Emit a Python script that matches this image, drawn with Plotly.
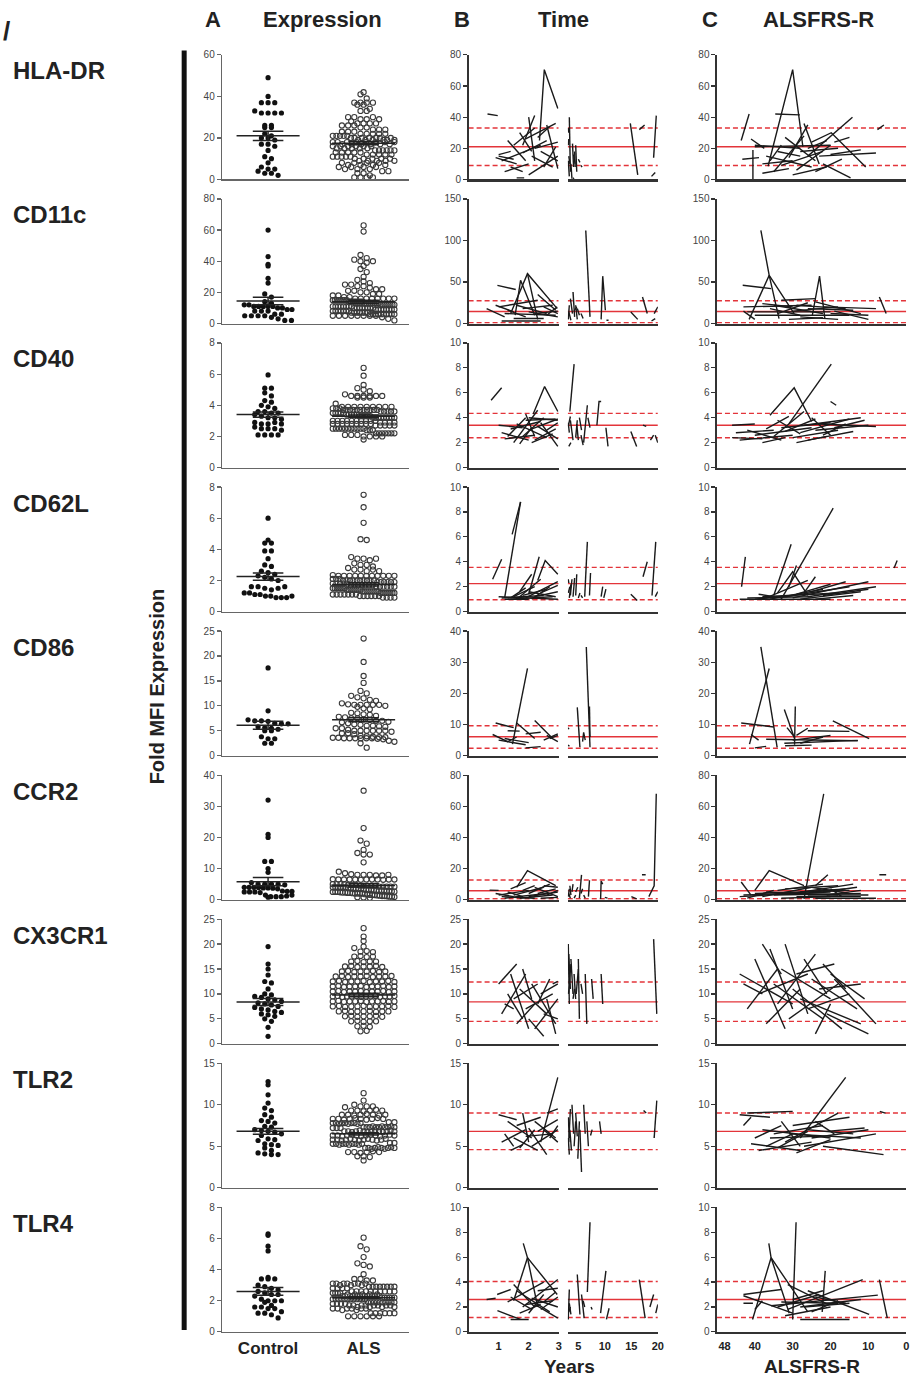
import plotly.graph_objects as go

W, H = 918, 1383

MARKERS = ["HLA-DR", "CD11c", "CD40", "CD62L", "CD86", "CCR2", "CX3CR1", "TLR2", "TLR4"]
A_YMAX = [60, 80, 8, 8, 25, 40, 25, 15, 8]
A_DTICK = [20, 20, 2, 2, 5, 10, 5, 5, 2]
BC_YMAX = [80, 150, 10, 10, 40, 80, 25, 15, 10]
BC_DTICK = [20, 50, 2, 2, 10, 20, 5, 5, 2]

REF_MEAN = [21, 14.5, 3.4, 2.25, 6.1, 5.8, 8.4, 6.8, 2.6]
REF_LO = [9, 1.0, 2.4, 0.95, 2.4, 0.6, 4.5, 4.6, 1.15]
REF_HI = [33, 27.5, 4.35, 3.55, 9.6, 12.7, 12.4, 9.0, 4.05]

CTRL_MEAN = [21, 14.5, 3.4, 2.25, 6.1, 5.8, 8.4, 6.8, 2.6]
CTRL_SEM = [2.2, 2.4, 0.17, 0.23, 0.8, 1.3, 0.7, 0.35, 0.25]
ALS_MEAN = [17.5, 14.0, 3.3, 1.75, 7.2, 4.6, 9.8, 6.5, 2.2]
ALS_SEM = [0.8, 1.0, 0.07, 0.1, 0.4, 0.5, 0.35, 0.13, 0.07]

# ---------------- column A values ----------------
CTRL_HLA = [49, 40, 37, 37, 37, 33, 32, 32, 32, 32, 26, 26, 25, 25, 22, 21, 20, 20, 19, 17, 17,
            16, 14, 11, 10, 8, 6, 5, 5, 4, 3, 3, 2]
ALS_HLA = [42, 41, 39, 37, 37, 36, 36, 37, 37, 34, 33, 33, 30, 30, 29, 29, 30, 29, 28,
           27, 27, 26, 26, 27, 27, 26, 25, 25, 24, 24, 23, 23, 24, 23,
           22, 22, 21, 22, 21, 22, 21, 22, 21, 21,
           20, 20, 19, 20, 19, 20, 19, 20, 20, 19, 19, 20, 19,
           18, 18, 17, 18, 17, 18, 17, 18, 17, 18, 17, 18, 17, 18,
           16, 15, 16, 15, 16, 15, 16, 15, 16, 15, 16,
           14, 13, 14, 13, 14, 13, 14, 13, 14, 13, 14,
           12, 11, 12, 11, 12, 11, 12, 11, 12, 11,
           10, 9, 10, 9, 10, 9, 10, 9, 10, 9,
           8, 7, 8, 7, 8, 7, 8, 7,
           6, 5, 6, 5, 6, 5, 6,
           4, 3, 4, 3, 2, 1, 1, 1, 1]

CTRL_CD11C = [60, 43, 38, 37, 29, 26, 19, 17, 14, 13, 12, 12, 11, 11, 11, 11, 11, 10, 10, 9, 9,
              8, 8, 8, 6, 6, 5, 5, 5, 5, 4, 3, 2, 2]
ALS_CD11C = [63, 59, 44, 42, 41, 40, 39, 40, 37, 35, 33, 30, 28, 27, 26, 25, 25, 24, 24, 23, 22, 22,
             21, 21, 20, 20, 19, 19, 18, 18,
             17, 17, 16, 16, 16, 16, 16, 16, 16, 16, 15, 15, 15, 15, 15, 15, 15, 15,
             14, 14, 14, 14, 14, 14, 14, 14, 13, 13, 13, 13, 13, 13, 13, 13,
             12, 12, 12, 12, 12, 12, 12, 12, 11, 11, 11, 11, 11, 11, 11, 11,
             10, 10, 10, 10, 10, 10, 10, 10, 9, 9, 9, 9, 9, 9, 9, 9,
             8, 8, 8, 8, 8, 8, 8, 7, 7, 7, 7, 7, 7, 7,
             6, 6, 6, 6, 6, 6, 6, 6, 6, 6, 5, 5, 5, 5, 5, 5, 5, 5, 4, 3, 2]

CTRL_CD40 = [5.95, 5.1, 5.1, 4.8, 4.6, 4.3, 4.2, 4.0, 3.9, 3.8, 3.6, 3.6, 3.5, 3.5, 3.4, 3.3, 3.2,
             3.2, 3.1, 2.9, 2.8, 2.8, 2.9, 2.8, 2.6, 2.5, 2.5, 2.5, 2.4, 2.1, 2.1, 2.1, 2.1]
ALS_CD40 = [6.4, 5.9, 5.3, 5.1, 5.0, 4.9, 4.7, 4.6, 4.6, 4.6, 4.6, 4.5, 4.5, 4.5, 4.6, 4.6, 4.1,
            3.9, 3.9, 3.9, 3.9, 3.9, 3.9, 3.9, 3.9, 3.9, 3.8, 3.8, 3.8,
            3.7, 3.7, 3.7, 3.7, 3.7, 3.7, 3.7, 3.7, 3.7, 3.7, 3.7, 3.6, 3.6, 3.6, 3.6, 3.6,
            3.5, 3.5, 3.5, 3.5, 3.5, 3.4, 3.4, 3.4, 3.4, 3.4,
            3.3, 3.3, 3.3, 3.3, 3.3, 3.2, 3.2, 3.2, 3.2, 3.2, 3.2, 3.2, 3.2, 3.2,
            3.0, 3.0, 3.0, 3.0, 3.0, 3.0, 3.0, 3.0, 3.0, 3.0, 2.9, 2.9, 2.9, 2.9,
            2.8, 2.8, 2.8, 2.8, 2.8, 2.8, 2.8, 2.8, 2.8, 2.7, 2.7, 2.7, 2.7, 2.7,
            2.5, 2.5, 2.5, 2.5, 2.5, 2.5, 2.5, 2.5, 2.5, 2.5, 2.5, 2.4, 2.4, 2.4,
            2.2, 2.2, 2.2, 2.2, 2.2, 2.2, 2.2, 2.1, 2.1, 2.1, 2.0, 2.0, 2.0, 2.0, 1.8]

CTRL_CD62L = [6.0, 4.6, 4.4, 4.4, 3.9, 3.9, 3.4, 3.0, 2.9, 2.6, 2.5, 2.4, 2.3, 2.2, 2.1, 2.0,
              1.6, 1.6, 1.5, 1.4, 1.5, 1.6, 1.2, 1.2, 1.1, 1.1, 1.0, 1.0, 0.9, 0.9, 0.9, 1.0]
ALS_CD62L = [7.5, 6.7, 5.7, 4.65, 4.6, 3.5, 3.4, 3.4, 3.3, 3.4, 3.1, 3.0, 3.0, 2.9, 2.8, 2.7, 2.7,
             2.6, 2.7, 2.6,
             2.35, 2.3, 2.3, 2.3, 2.3, 2.3, 2.3, 2.3, 2.3, 2.3, 2.3, 2.3,
             2.1, 2.1, 2.1, 2.0, 2.0, 2.0, 2.0, 2.0, 2.0, 2.0, 2.0, 2.0, 2.0, 1.9, 1.9, 1.9, 1.9, 1.9, 1.9,
             1.8, 1.8, 1.8, 1.8, 1.8, 1.7, 1.7, 1.7, 1.7, 1.7, 1.7, 1.7, 1.6, 1.6, 1.6, 1.6, 1.6, 1.6,
             1.5, 1.5, 1.5, 1.5, 1.5, 1.5, 1.5, 1.4, 1.4, 1.4, 1.4, 1.4, 1.4, 1.4, 1.4,
             1.3, 1.3, 1.3, 1.3, 1.3, 1.3, 1.3, 1.3, 1.3, 1.2, 1.2, 1.2, 1.2, 1.2, 1.2, 1.2, 1.2,
             1.1, 1.1, 1.1, 1.1, 1.1, 1.1, 1.1, 1.0, 1.0, 1.0, 1.0, 1.0, 1.0, 0.9, 0.9, 0.9, 0.9]

CTRL_CD86 = [17.6, 9.0, 7.2, 7.0, 7.0, 6.9, 6.5, 6.4, 6.4, 5.8, 5.6, 5.5, 5.3, 5.0, 5.0, 3.8, 3.4,
             3.4, 2.5, 2.5]
ALS_CD86 = [23.5, 18.8, 16.0, 14.6, 13.0, 12.5, 12.0, 11.7, 11.5, 11.2, 11.0, 10.5, 10.3, 10.2,
            10.2, 10.2, 10.2, 10.2, 10.0, 9.8, 9.5, 9.3, 8.6, 8.5, 8.3, 8.2, 8.0, 7.8, 7.7, 7.5, 7.5,
            7.3, 7.2, 7.0, 7.0, 6.8, 6.7, 6.5, 6.3, 6.2, 6.0, 6.0, 5.9, 5.8, 5.5, 5.5, 5.2, 5.0, 5.0,
            5.0, 5.0, 5.0, 5.0, 4.8, 4.5, 4.5, 4.3, 4.0, 3.9, 3.8, 3.7, 3.7, 3.6, 3.6, 3.5, 3.5,
            3.5, 3.5, 3.5, 3.5, 3.4, 3.3, 3.0, 2.8, 2.5, 1.6]

CTRL_CCR2 = [32, 21, 20, 12.3, 12.3, 10, 8.8, 5.5, 5.0, 5.0, 5.0, 5.0, 4.8, 4.0, 4.0, 4.0, 3.9, 3.8,
             3.8, 3.7, 3.5, 2.8, 2.7, 2.7, 2.5, 2.5, 2.5, 2.3, 1.5, 1.0, 1.0, 0.8, 1.0, 1.2, 1.5]
ALS_CCR2 = [35, 23, 19, 18, 16, 15, 14.5, 14.5, 12, 9, 8.5, 8.2, 8, 8, 8, 7.8, 7.8, 8,
            6.6, 6.5, 6.5, 6.5, 6.5, 6.4, 6.5, 6.5, 6.5, 6.4, 6.5, 6.5,
            5, 5, 5, 5, 4.8, 4.8, 4.8, 4.5, 4.5, 4.5, 4.5, 4.5, 4.2, 4.2, 4.2, 4.2, 4.2,
            4.0, 4.0, 4.0, 4.0, 4.0, 4.0,
            3.8, 3.8, 3.6, 3.6, 3.5, 3.5, 3.4, 3.3, 3.2, 3.2, 3.1, 3.0, 3.0, 3.0, 3.0,
            2.8, 2.8, 2.7, 2.6, 2.5, 2.5, 2.5, 2.4, 2.3, 2.3, 2.2, 2.2, 2.1, 2.0, 2.0, 2.0, 2.0,
            1.8, 1.7, 1.6, 1.5, 1.5, 1.4, 1.3, 1.2, 1.2, 1.1, 1.0, 1.0, 0.9, 0.8, 0.7, 0.6]

CTRL_CX3CR1 = [19.5, 16.0, 15.0, 13.8, 12.5, 12.2, 11.0, 10.0, 9.8, 9.5, 9.3, 9.0, 8.8, 8.5, 8.2,
               8.0, 7.8, 7.5, 7.3, 7.0, 6.8, 6.5, 6.3, 6.0, 5.8, 5.5, 5.0, 4.5, 3.3, 1.5]
ALS_CX3CR1 = [23.2, 21.5, 20.6, 19.5, 19.2, 18.5, 18.6, 18.4, 17.5, 17.6, 17.4, 17.5,
              16.5, 16.6, 16.4, 16.5, 16.5,
              15.5, 15.6, 15.4, 15.5, 15.5, 15.6, 15.4,
              14.5, 14.6, 14.4, 14.5, 14.5, 14.6, 14.4, 14.5,
              13.5, 13.6, 13.4, 13.5, 13.5, 13.6, 13.4, 13.5, 13.5, 13.6,
              12.5, 12.6, 12.4, 12.5, 12.5, 12.6, 12.4, 12.5, 12.5, 12.6, 12.4,
              11.5, 11.6, 11.4, 11.5, 11.5, 11.6, 11.4, 11.5, 11.5, 11.6, 11.4, 11.5,
              10.5, 10.6, 10.4, 10.5, 10.5, 10.6, 10.4, 10.5, 10.5, 10.6, 10.4, 10.5,
              9.5, 9.6, 9.4, 9.5, 9.5, 9.6, 9.4, 9.5, 9.5, 9.6, 9.4, 9.5, 9.5, 9.6,
              8.5, 8.6, 8.4, 8.5, 8.5, 8.6, 8.4, 8.5, 8.5, 8.6, 8.4, 8.5,
              7.5, 7.6, 7.4, 7.5, 7.5, 7.6, 7.4, 7.5, 7.5, 7.6, 7.4,
              6.5, 6.6, 6.4, 6.5, 6.5, 6.6, 6.4, 6.5, 6.5,
              5.5, 5.6, 5.4, 5.5, 5.5, 5.6, 5.4,
              4.5, 4.6, 4.4, 4.5, 4.5, 3.5, 3.6, 3.4, 2.5, 2.6]

CTRL_TLR2 = [12.8, 12.4, 11.2, 10.2, 9.6, 9.3, 8.8, 8.5, 8.1, 8.0, 7.8, 7.4, 7.3, 7.0, 6.9, 6.8,
             6.7, 6.5, 6.3, 5.9, 5.8, 5.7, 5.3, 5.2, 5.1, 4.8, 4.5, 4.2, 4.1, 4.0, 4.0]
ALS_TLR2 = [11.4, 10.5, 10.0, 9.8, 9.8, 9.7, 9.8, 9.3, 9.3, 9.2, 9.3, 9.4, 9.3,
            8.8, 8.8, 8.7, 8.8, 8.9, 8.8, 8.7, 8.8,
            8.3, 8.3, 8.2, 8.3, 8.4, 8.3, 8.2, 8.3, 8.4, 8.3,
            7.8, 7.8, 7.7, 7.8, 7.9, 7.8, 7.7, 7.8, 7.9, 7.8, 7.7, 7.8,
            7.3, 7.3, 7.2, 7.3, 7.4, 7.3, 7.2, 7.3, 7.4, 7.3, 7.2, 7.3, 7.4, 7.3,
            6.8, 6.8, 6.7, 6.8, 6.9, 6.8, 6.7, 6.8, 6.9, 6.8, 6.7, 6.8, 6.9, 6.8,
            6.3, 6.3, 6.2, 6.3, 6.4, 6.3, 6.2, 6.3, 6.4, 6.3, 6.2, 6.3, 6.4, 6.3,
            5.8, 5.8, 5.7, 5.8, 5.9, 5.8, 5.7, 5.8, 5.9, 5.8, 5.7, 5.8, 5.9,
            5.3, 5.3, 5.2, 5.3, 5.4, 5.3, 5.2, 5.3, 5.4, 5.3, 5.2, 5.3,
            4.8, 4.8, 4.7, 4.8, 4.9, 4.8, 4.7, 4.8, 4.9, 4.8,
            4.3, 4.3, 4.2, 4.3, 4.4, 4.3, 3.8, 3.8, 3.7, 3.3]

CTRL_TLR4 = [6.3, 6.2, 5.5, 5.2, 3.5, 3.4, 3.4, 3.4, 3.0, 2.9, 2.8, 2.7, 2.6, 2.5, 2.4, 2.4, 2.3,
             2.1, 2.0, 2.0, 2.0, 1.9, 1.7, 1.6, 1.6, 1.5, 1.5, 1.3, 1.2, 1.2, 1.1, 0.9]
ALS_TLR4 = [6.05, 5.5, 5.3, 4.8, 4.4, 4.3, 4.2, 3.7, 3.4, 3.4, 3.3, 3.3,
            3.1, 3.1, 3.0, 3.1, 3.1, 3.0, 3.1, 3.1, 3.0, 3.1,
            2.9, 2.9, 2.8, 2.9, 2.9, 2.8, 2.9, 2.9, 2.8, 2.9, 2.9, 2.8,
            2.6, 2.6, 2.5, 2.6, 2.6, 2.5, 2.6, 2.6, 2.5, 2.6, 2.6, 2.5, 2.6, 2.6,
            2.3, 2.3, 2.4, 2.3, 2.3, 2.4, 2.3, 2.3, 2.4, 2.3, 2.3, 2.4, 2.3, 2.3, 2.4, 2.3,
            2.1, 2.1, 2.2, 2.1, 2.1, 2.2, 2.1, 2.1, 2.2, 2.1, 2.1, 2.2, 2.1, 2.1, 2.2, 2.1, 2.1, 2.2,
            1.9, 1.9, 1.8, 1.9, 1.9, 1.8, 1.9, 1.9, 1.8, 1.9, 1.9, 1.8, 1.9, 1.9,
            1.7, 1.7, 1.6, 1.7, 1.7, 1.6, 1.7, 1.7, 1.6, 1.7, 1.7, 1.6,
            1.5, 1.5, 1.4, 1.5, 1.5, 1.4, 1.5, 1.5,
            1.2, 1.2, 1.2, 1.2, 1.2, 1.2, 1.0, 1.0, 1.0, 1.0, 1.0, 1.0]

# ---------------- column B: value vs years (polylines of [years, value]) ----------------
TIME_HLA = [[[0.63, 42], [0.97, 41]], [[2.36, 25], [2.52, 70.5], [2.97, 45.6]],
            [[1.0, 15], [1.5, 13]], [[0.9, 14], [1.6, 10]], [[1.3, 25], [1.9, 12]],
            [[1.5, 22], [2.2, 33]], [[1.7, 30], [2.1, 18]], [[1.9, 26], [2.9, 36]],
            [[2.0, 40], [2.2, 12]], [[2.3, 27], [2.7, 34]], [[1.2, 5], [2.0, 10]],
            [[2.0, 3], [2.97, 15]], [[2.6, 35], [2.97, 7]], [[1.4, 8], [1.8, 5]],
            [[2.2, 20], [2.97, 24]], [[2.4, 18], [2.97, 12]], [[1.6, 1], [1.85, 1]],
            [[2.5, 8], [2.9, 21]], [[1.8, 17], [2.6, 25]], [[1.0, 16], [1.4, 18]],
            [[1.8, 22], [2.2, 41]], [[1.1, 12], [2.4, 22]], [[2.1, 15], [2.8, 8]],
            [[3.1, 33], [3.2, 30]], [[3.3, 40], [3.5, 5]], [[3.1, 22], [3.2, 26]],
            [[3.2, 15], [3.4, 10]], [[3.6, 10], [3.8, 0.5]], [[3.9, 23], [4.1, 8]],
            [[4.1, 16], [4.4, 10]], [[4.5, 22], [4.7, 5]], [[4.3, 18], [4.4, 8]],
            [[5.0, 13], [5.3, 11]], [[5.5, 9], [5.7, 8]], [[3.1, 12], [3.3, 2]],
            [[4.0, 1], [4.2, 0.5]], [[14.8, 36], [16.2, 3]], [[16.5, 32], [17.5, 35]],
            [[19.2, 14], [19.7, 41]], [[18.8, 2], [19.5, 4.5]]]
TIME_CD11C = [[[0.96, 46], [1.57, 41]], [[1.4, 12], [1.96, 60], [2.95, 18]], [[1.96, 60], [2.3, 5]],
              [[1.55, 10], [1.73, 52], [2.2, 10]], [[0.6, 18], [1.2, 8]], [[0.9, 22], [1.5, 14]],
              [[1.0, 20], [2.3, 28]], [[1.2, 12], [2.9, 10]], [[1.5, 6], [2.5, 6]],
              [[2.3, 35], [2.9, 16]], [[1.8, 18], [2.8, 22]], [[2.0, 14], [2.97, 8]],
              [[2.5, 20], [2.97, 12]], [[1.3, 16], [1.9, 8]], [[2.2, 12], [2.97, 15]],
              [[1.6, 22], [2.6, 12]], [[1.1, 3], [2.4, 3]], [[2.6, 10], [2.95, 20]],
              [[6.4, 112], [7.2, 8]], [[9.3, 5], [9.6, 57], [10.1, 16]], [[10.3, 4], [10.7, 4]],
              [[3.1, 5], [3.3, 22]], [[3.5, 30], [3.9, 12]], [[4.0, 38], [4.3, 8]],
              [[4.5, 22], [4.8, 5]], [[4.8, 18], [5.2, 10]], [[3.2, 14], [3.6, 4]],
              [[5.5, 12], [5.9, 6]], [[4.2, 15], [4.7, 20]], [[14.9, 14], [16.2, 5]],
              [[17.1, 32], [18.0, 12]], [[18.8, 3], [19.5, 6]], [[19.3, 12], [20, 20]]]
TIME_CD40 = [[[0.75, 5.4], [1.1, 6.4]], [[2.15, 4.3], [2.53, 6.5], [2.97, 4.5]],
             [[1.0, 3.4], [1.8, 3.2]], [[1.1, 2.8], [2.0, 2.2]], [[1.3, 2.5], [1.9, 4.0]],
             [[1.5, 2.0], [2.3, 4.6]], [[1.6, 3.5], [2.6, 2.4]], [[1.8, 2.5], [2.5, 4.0]],
             [[1.9, 3.8], [2.9, 3.9]], [[2.0, 3.0], [2.97, 3.9]], [[2.2, 2.2], [2.9, 3.1]],
             [[2.4, 3.6], [2.97, 1.7]], [[1.2, 2.3], [2.2, 2.6]], [[2.1, 2.0], [2.8, 2.7]],
             [[1.7, 1.9], [2.1, 3.2]], [[2.3, 3.3], [2.97, 2.3]], [[1.4, 3.1], [2.4, 3.7]],
             [[2.6, 3.0], [2.97, 3.6]], [[1.9, 4.3], [2.2, 2.5]], [[2.0, 4.0], [2.97, 3.8]],
             [[3.4, 4.5], [4.2, 8.3]], [[6.0, 2.0], [6.7, 5.0]], [[8.5, 3.4], [8.9, 5.3], [9.3, 5.3]],
             [[3.1, 3.6], [3.3, 2.8]], [[3.2, 1.7], [3.6, 2.0]], [[3.1, 3.3], [3.5, 4.1]],
             [[3.5, 3.8], [4.0, 2.2]], [[4.5, 2.4], [4.8, 3.8]], [[4.7, 3.5], [5.0, 2.2]],
             [[5.5, 2.6], [5.9, 1.8]], [[5.2, 4.0], [5.6, 3.0]], [[6.8, 4.0], [7.2, 3.2]],
             [[10.2, 3.2], [10.6, 1.7]], [[14.9, 2.9], [16.0, 1.7]], [[17.2, 3.4], [17.8, 3.3]],
             [[18.6, 2.2], [19.2, 2.6]], [[19.5, 2.6], [20, 2.0]]]
TIME_CD62L = [[[0.8, 2.6], [1.1, 4.2]], [[1.2, 1.1], [1.73, 8.8]], [[1.45, 6.2], [1.73, 8.8]],
              [[2.0, 1.4], [2.35, 4.4]], [[2.3, 2.5], [2.55, 4.1], [2.97, 3.0]],
              [[1.0, 1.2], [2.97, 1.0]], [[1.1, 1.1], [2.5, 1.3]], [[1.3, 1.0], [2.8, 1.2]],
              [[1.5, 1.2], [2.2, 2.0]], [[1.6, 1.0], [2.4, 2.6]], [[1.8, 1.3], [2.6, 1.8]],
              [[1.9, 1.1], [2.97, 2.4]], [[2.0, 1.6], [2.9, 1.2]], [[2.1, 1.0], [2.7, 2.0]],
              [[1.7, 1.6], [2.1, 3.0]], [[2.2, 1.2], [2.97, 1.6]], [[1.4, 1.1], [1.9, 1.9]],
              [[2.4, 1.5], [2.97, 2.1]], [[1.2, 1.0], [2.0, 1.0]],
              [[3.1, 2.6], [3.2, 2.3]], [[3.1, 1.5], [3.4, 2.0]], [[3.3, 1.1], [3.6, 2.2]],
              [[3.5, 1.3], [3.8, 2.6]], [[4.0, 1.2], [4.3, 2.7]], [[4.5, 1.3], [4.7, 3.0]],
              [[5.0, 1.1], [5.3, 1.5]], [[6.2, 1.2], [6.7, 5.6]], [[7.1, 1.3], [7.3, 3.1]],
              [[5.5, 1.3], [5.8, 1.1]], [[9.3, 1.2], [9.6, 2.0]], [[9.8, 1.1], [10.2, 1.8]],
              [[14.9, 1.4], [16.1, 0.9]], [[17.2, 2.8], [18.0, 4.0]], [[18.9, 1.3], [19.6, 5.6]],
              [[19.5, 1.2], [20, 1.6]]]
TIME_CD86 = [[[1.46, 3.7], [1.96, 28]], [[0.9, 10.5], [1.5, 9]], [[0.8, 6.8], [1.3, 4.5], [1.6, 6.0]],
             [[1.3, 8.0], [1.7, 7.9]], [[1.6, 10.5], [2.2, 5.5]], [[1.2, 5.5], [2.0, 4.2]],
             [[1.0, 5.0], [1.9, 3.5]], [[1.9, 7.0], [2.4, 7.5]], [[1.9, 2.5], [2.4, 2.9]],
             [[2.2, 11.3], [2.8, 5.5]], [[2.5, 5.0], [2.97, 7.0]], [[2.6, 6.5], [2.97, 4.5]],
             [[2.7, 5.5], [2.97, 6.5]],
             [[3.1, 9], [3.2, 8.5]], [[3.1, 3.5], [3.3, 3.0]], [[4.8, 15.5], [5.3, 2.7]],
             [[6.5, 34.9], [7.2, 2.7]], [[7.1, 15.8], [7.2, 6]], [[5.8, 4.5], [6.0, 7.5], [6.3, 5.0]]]
TIME_CCR2 = [[[0.7, 6.2], [1.0, 6.0]], [[1.6, 8], [1.96, 18.7], [2.9, 9]],
             [[0.9, 4], [1.5, 2]], [[1.0, 3], [2.0, 6]], [[1.2, 1], [2.6, 4]], [[1.3, 5], [1.8, 2]],
             [[1.5, 3], [2.5, 8]], [[1.7, 1], [2.8, 3]], [[1.8, 6], [2.2, 9]], [[2.0, 2], [2.97, 5]],
             [[2.2, 8], [2.97, 2]], [[2.3, 4], [2.9, 7]], [[1.4, 7], [1.9, 11]], [[2.4, 1], [2.97, 1.5]],
             [[2.5, 9], [2.97, 8]], [[2.6, 3], [2.97, 6]], [[1.1, 2], [2.2, 1]], [[2.0, 4], [2.7, 10]],
             [[3.1, 2], [3.3, 7]], [[3.2, 4], [3.5, 1]], [[3.4, 9], [3.6, 3]], [[3.8, 5], [4.0, 10]],
             [[4.2, 1], [4.5, 3]], [[5.2, 1], [5.6, 16]], [[5.5, 4], [5.8, 7]], [[6.0, 3], [6.3, 1]],
             [[6.9, 2], [7.1, 12.5]], [[4.5, 5], [4.9, 8]], [[9.2, 0.5], [9.3, 12], [9.6, 10]],
             [[10.0, 1.5], [10.5, 1]], [[17.0, 16], [17.7, 16]], [[15.0, 2], [16, 0.5]],
             [[18.3, 2], [19.3, 9], [19.7, 68]]]
TIME_CX3CR1 = [[[1.0, 12], [1.6, 16]], [[1.3, 10], [1.8, 5]], [[1.1, 6], [1.9, 14]],
               [[1.4, 14], [2.0, 3]], [[1.5, 9], [2.3, 12]], [[1.6, 4], [2.2, 8]],
               [[1.7, 11], [2.6, 6]], [[1.8, 15], [2.1, 9]], [[1.9, 7], [2.8, 10]],
               [[2.0, 5], [2.5, 1.5]], [[2.1, 12], [2.9, 4]], [[2.2, 3], [2.97, 9]],
               [[2.3, 8], [2.7, 13]], [[2.4, 10], [2.97, 12]], [[2.5, 6], [2.97, 5]],
               [[2.6, 9], [2.9, 2]], [[2.8, 12], [2.97, 12.5]], [[1.2, 8], [1.5, 7]],
               [[3.1, 20], [3.3, 8]], [[3.2, 18], [3.5, 11]], [[3.3, 12], [3.6, 16]],
               [[3.6, 17], [4.0, 10]], [[4.2, 14], [4.5, 9]], [[4.6, 10], [5.0, 15]],
               [[5.0, 17], [5.2, 5]], [[5.5, 12], [5.8, 10]], [[6.3, 14], [6.6, 4]],
               [[7.5, 13], [7.8, 9]], [[9.3, 14], [9.6, 8]], [[19.2, 21], [19.8, 6]],
               [[3.1, 10], [3.4, 12]], [[4.0, 9], [4.3, 11]]]
TIME_TLR2 = [[[1.0, 8.8], [1.6, 8.2]], [[1.1, 5.5], [1.9, 7]], [[1.2, 6.5], [1.5, 5]],
             [[1.3, 8], [2.1, 6]], [[1.5, 6], [2.3, 4.5]], [[1.6, 7.5], [2.4, 8.5]],
             [[1.7, 4.8], [2.2, 7]], [[1.8, 9], [2.0, 5.5]], [[1.9, 6.2], [2.8, 6.5]],
             [[2.0, 7.2], [2.6, 4]], [[2.1, 5], [2.97, 7]], [[2.2, 8], [2.9, 6]],
             [[2.3, 6.8], [2.97, 8.2]], [[2.4, 5.5], [2.97, 13.3]], [[2.5, 7], [2.97, 5.5]],
             [[2.6, 9], [2.97, 9.5]], [[1.4, 4.5], [1.8, 5.2]], [[2.7, 6], [2.97, 7.5]],
             [[3.1, 8.5], [3.3, 6]], [[3.2, 5.5], [3.5, 9.5]], [[3.4, 7], [3.7, 4.5]],
             [[3.8, 10], [4.1, 6.5]], [[4.2, 5], [4.5, 8]], [[4.5, 9], [4.8, 6.2]],
             [[4.9, 3.5], [5.2, 8]], [[5.3, 7], [5.6, 1.9]], [[6.0, 10], [6.3, 6.5]],
             [[6.6, 8], [6.9, 5]], [[7.3, 6.3], [7.6, 7]], [[9.0, 8], [9.3, 6.5]],
             [[17.3, 9.3], [17.8, 9.0]], [[19.3, 6], [19.8, 10.5]], [[3.1, 6], [3.3, 4]]]
TIME_TLR4 = [[[0.6, 2.6], [0.9, 2.7]], [[0.95, 3.0], [1.4, 3.4]], [[0.96, 1.7], [1.73, 1.0]],
             [[1.4, 1.0], [2.0, 1.0]], [[1.82, 7.1], [1.96, 5.95], [2.95, 3.0]],
             [[1.5, 2.5], [1.96, 5.95]], [[1.96, 5.95], [2.3, 2.0]],
             [[1.3, 2.4], [2.5, 4.0]], [[1.5, 3.8], [2.2, 2.0]], [[1.6, 3.3], [2.7, 1.6]],
             [[1.8, 2.0], [2.97, 4.2]], [[2.0, 1.5], [2.5, 3.0]], [[1.7, 1.5], [2.4, 2.2]],
             [[2.1, 2.7], [2.97, 2.0]], [[2.2, 2.2], [2.97, 1.1]], [[2.3, 3.3], [2.97, 3.5]],
             [[1.9, 2.2], [2.8, 2.5]], [[2.4, 1.8], [2.97, 2.8]], [[1.4, 2.8], [2.1, 1.8]],
             [[2.5, 2.4], [2.9, 3.2]],
             [[3.1, 1.0], [3.3, 3.4]], [[3.2, 1.6], [3.5, 2.0]], [[3.3, 2.3], [3.6, 1.4]],
             [[4.8, 4.6], [5.3, 1.4]], [[5.6, 3.0], [6.1, 1.1]], [[5.9, 2.5], [6.2, 2.0]],
             [[6.7, 3.2], [7.2, 8.8]], [[7.4, 2.0], [7.6, 1.8]], [[9.2, 1.5], [10.2, 4.9]],
             [[10.3, 1.0], [10.8, 1.9]], [[16.5, 4.2], [17.6, 1.1]], [[18.5, 2.0], [19.2, 3.0]],
             [[19.6, 1.5], [20, 2.2]]]

# ---------------- column C: value vs ALSFRS-R (polylines of [score, value]) ----------------
FRS_HLA = [[[43.6, 25], [41.5, 42]], [[40.5, 0], [40.5, 19]], [[43.3, 13], [38.9, 14]],
           [[41, 26], [37.5, 20]], [[36.5, 8.5], [30, 70.5], [27.3, 21]], [[34.6, 42], [28.1, 41.5]],
           [[40, 22], [28, 20]], [[40, 21], [20, 22]], [[38, 10], [30, 12]], [[37, 15], [25, 8]],
           [[35, 5], [27, 28]], [[33, 9], [22, 18]], [[32, 27], [24, 12]], [[31, 14], [26, 35]],
           [[29, 6], [20, 22]], [[28, 18], [18, 20]], [[27, 36], [23, 10]], [[26, 15], [14.2, 40]],
           [[25, 24], [19.8, 30], [10.7, 8]], [[24, 5], [17, 13]], [[23, 15], [8, 17]],
           [[22, 10], [14.7, 1]], [[30, 3], [21, 8]], [[34, 18], [28, 15]], [[20, 16], [12, 19]],
           [[36, 12], [33, 22]], [[19, 24], [15, 27]], [[7.6, 32], [5.9, 35]], [[38, 4], [31, 7]],
           [[26, 20], [21, 25]]]
FRS_CD11C = [[[38.4, 112], [36.2, 58], [33.6, 6]], [[41.5, 5], [36.2, 58], [29.6, 12]],
             [[43.2, 46], [35.7, 42]], [[43, 15], [40, 5]], [[43, 20], [25, 22]], [[42, 14], [20, 14]],
             [[40, 10], [15, 10]], [[38, 24], [30, 20]], [[35, 22], [22, 12]],
             [[24.8, 10], [22.9, 57], [21.5, 6]], [[33, 28], [24, 30]], [[30, 15], [18, 20]],
             [[28, 8], [18, 5]], [[26, 18], [14, 16]], [[34, 12], [26, 25]], [[29, 22], [16, 18]],
             [[24, 26], [12, 12]], [[22, 20], [8, 18]], [[20, 12], [10, 10]], [[31, 5], [22, 7]],
             [[36, 18], [28, 10]], [[19, 15], [10, 5]], [[7.1, 32], [5.3, 12]]]
FRS_CD40 = [[[46, 2.4], [38, 2.3]], [[46, 3.4], [40, 3.5]], [[45, 2.8], [35, 3.0]],
            [[44, 2.2], [30, 2.6]], [[42, 3.0], [33, 2.2]], [[40, 2.6], [25, 3.2]], [[38, 2.0], [32, 2.4]],
            [[36, 4.2], [29.6, 6.4], [25, 3.7]], [[35, 2.5], [27, 4.5]], [[33, 3.2], [20, 3.6]],
            [[31, 3.5], [19.8, 8.3]], [[30, 2.4], [18, 3.0]], [[28, 2.8], [15, 3.9]],
            [[27, 3.4], [12, 4.0]], [[26, 2.2], [14, 2.9]], [[24, 3.0], [10, 3.4]], [[22, 2.6], [16, 3.5]],
            [[20, 5.3], [18.5, 5.0]], [[34, 3.8], [28, 2.7]], [[25, 4.0], [20, 2.6]], [[23, 3.5], [8, 3.3]],
            [[29, 2.0], [21, 2.5]], [[37, 3.1], [31, 4.1]], [[19, 3.2], [11, 3.8]], [[32, 2.9], [24, 3.9]]]
FRS_CD62L = [[[43.5, 2.0], [42.5, 4.4]], [[44, 1.0], [20, 1.0]], [[42, 1.1], [25, 1.2]],
             [[40, 1.0], [30, 1.3]], [[38, 1.2], [18, 1.5]], [[36, 1.0], [22, 1.8]],
             [[35, 1.3], [30.4, 5.4]], [[33, 1.0], [19.3, 8.3]], [[32, 1.2], [15, 2.0]],
             [[30, 1.1], [10, 2.4]], [[29, 1.4], [20, 2.2]], [[28, 1.0], [12, 1.6]],
             [[31, 2.0], [29, 3.7]], [[27, 1.5], [24, 2.8]], [[26, 1.2], [8, 2.0]],
             [[25, 1.6], [16, 2.4]], [[34, 1.5], [30, 3.2], [26, 1.3]], [[24, 1.0], [14, 1.3]],
             [[22, 1.3], [10, 1.8]], [[3.2, 3.5], [2.4, 4.1]], [[37, 1.1], [26, 2.5]], [[39, 1.4], [33, 1.1]]]
FRS_CD86 = [[[38.4, 34.9], [34.1, 2.7]], [[41.4, 3.7], [36.2, 28]], [[43.6, 10.5], [35, 9.2]],
            [[41, 6.8], [39, 5]], [[40, 2.5], [37, 3.0]], [[32.2, 14.8], [29.5, 5.5]],
            [[29.3, 15.8], [29.5, 3.5]], [[31.5, 9], [29.5, 6]], [[29, 6.5], [26, 8.8]],
            [[26, 8.0], [15, 7.8]], [[37, 5.3], [12.8, 4.8]], [[32.2, 4.0], [12.8, 4.9]],
            [[32, 3.2], [25, 3.4]], [[19.4, 11.2], [9.8, 5.5]], [[30, 5.0], [20, 6.5]], [[28, 4.0], [22, 6.0]]]
FRS_CCR2 = [[[27, 0.5], [21.8, 68]], [[40, 6], [36.2, 18.7], [27, 9]], [[43.6, 11.4], [41, 3]],
            [[7.1, 16], [5.3, 16]], [[24, 9], [20.7, 16]], [[44, 2], [30, 4]], [[43, 3], [20, 5]],
            [[42, 1], [35, 6]], [[40, 4], [15, 6]], [[38, 2], [25, 8]], [[37, 5], [18, 3]],
            [[35, 3], [12, 4]], [[34, 6], [22, 10]], [[33, 1], [20, 2]], [[32, 7], [18, 9]],
            [[30, 4], [14, 10]], [[29, 2], [12, 2]], [[28, 5], [16, 7]], [[26, 3], [10, 3]],
            [[25, 8], [15, 4]], [[24, 1], [8, 1]], [[22, 5], [13, 8]], [[21, 3], [12, 6]], [[20, 7], [17, 2]]]
FRS_CX3CR1 = [[[44, 14], [30, 8]], [[43, 12], [38, 10]], [[42, 7], [34, 15]], [[40, 17], [32, 3]],
              [[39, 10], [26, 14]], [[37, 4], [28, 11]], [[36, 19], [30, 7]], [[35, 12], [22, 5]],
              [[34, 8], [24, 18]], [[33, 15], [20, 9]], [[32, 20], [26, 6]], [[31, 5], [18, 12]],
              [[30, 11], [17, 3]], [[29, 14], [19, 16]], [[28, 9], [12, 4]], [[27, 17], [21, 10]],
              [[26, 7], [15, 10]], [[25, 13], [13, 7]], [[24, 2], [20, 8]], [[23, 11], [12, 12]],
              [[22, 16], [16, 11]], [[21, 6], [10, 2]], [[20, 14], [11, 9]], [[38, 20], [33, 14]],
              [[19, 13], [8, 4]]]
FRS_TLR2 = [[[44, 8.8], [36, 8.5]], [[43, 7.5], [41, 8.5]], [[42, 9], [30, 9.2]], [[41, 5.3], [28, 4.5]],
            [[40, 6], [33, 7.5]], [[39, 4.5], [25, 5.5]], [[38, 7], [20, 6]], [[37, 5], [30, 6.5]],
            [[35, 6.5], [22, 7.5]], [[34, 4.8], [26, 6.8]], [[33, 8], [28, 5]], [[32, 5.5], [18, 9]],
            [[31, 6.5], [12, 6]], [[30, 7.5], [15, 8.5]], [[29, 4.2], [20, 5.8]], [[28, 6], [16, 13.3]],
            [[27, 5], [8, 6.5]], [[26, 7], [14, 6.5]], [[25, 6], [10, 7]], [[24, 8], [19, 6.5]],
            [[22, 5], [6, 4]], [[21, 6.8], [11, 7.2]], [[7, 9.2], [5.5, 9.0]], [[36, 6], [24, 6.2]]]
FRS_TLR4 = [[[40.6, 1.0], [35.7, 5.95], [30.9, 1.5]], [[36.3, 7.1], [35.7, 5.95], [26, 1.6]],
            [[30, 1.0], [29.1, 8.8]], [[43, 3.0], [33, 3.4]], [[43, 2.3], [40.5, 2.3]],
            [[43, 2.9], [30, 1.5]], [[40, 1.8], [38, 2.5]], [[31.3, 1.8], [11.5, 4.2]],
            [[7.1, 4.2], [5.0, 1.1]], [[35.7, 2.1], [7.5, 2.95]], [[31.3, 3.8], [20.7, 2.2]],
            [[22.2, 1.6], [21.4, 4.9]], [[27, 2.0], [15, 2.3]], [[26, 3.3], [9.8, 1.4]],
            [[28, 1.0], [15, 1.0]], [[33, 2.4], [18, 2.3]], [[32, 1.3], [20, 2.0]], [[30, 2.6], [22, 3.3]],
            [[28, 2.0], [12, 2.6]], [[25, 1.6], [18, 2.5]], [[24, 2.8], [16, 2.3]], [[34, 2.0], [23, 3.0]]]

CTRL = [CTRL_HLA, CTRL_CD11C, CTRL_CD40, CTRL_CD62L, CTRL_CD86, CTRL_CCR2, CTRL_CX3CR1, CTRL_TLR2, CTRL_TLR4]
ALS = [ALS_HLA, ALS_CD11C, ALS_CD40, ALS_CD62L, ALS_CD86, ALS_CCR2, ALS_CX3CR1, ALS_TLR2, ALS_TLR4]
TIME = [TIME_HLA, TIME_CD11C, TIME_CD40, TIME_CD62L, TIME_CD86, TIME_CCR2, TIME_CX3CR1, TIME_TLR2, TIME_TLR4]
FRS = [FRS_HLA, FRS_CD11C, FRS_CD40, FRS_CD62L, FRS_CD86, FRS_CCR2, FRS_CX3CR1, FRS_TLR2, FRS_TLR4]

GROUPS = ["Control", "ALS"]
YEAR_TICKS_1 = [1, 2, 3]
YEAR_TICKS_2 = [5, 10, 15, 20]
FRS_TICKS = [48, 40, 30, 20, 10, 0]

# ---------------- geometry (target pixels) ----------------
ROW_TOP0, ROW_STEP, ROW_H = 54.3, 143.9, 124.5
A_X = (222, 408)
B1_X = (468, 558)
B2_X = (567, 657)
C_X = (716, 905)
A_RANGE = [-0.48, 1.47]
B1_RANGE = [0, 3]
B2_RANGE = [3, 20]
C_RANGE = [50, 0]

FONT = "Liberation Sans, Arial, sans-serif"


# calibration between target picture pixels and figure pixels
def X(px):
    return (px - 0.1) / 0.992


def Y(py):
    return (py - 5.5) / 0.991


def xdom(p):
    return [X(p[0]) / W, X(p[1]) / W]


def ydom(top, bot):
    return [1 - Y(bot) / H, 1 - Y(top) / H]


def swarm(vals, ppu, d, maxhw):
    """GraphPad-like scatter: bin values into rows, spread each row symmetrically."""
    bins = {}
    for i, v in enumerate(vals):
        b = int(round(v * ppu / d))
        bins.setdefault(b, []).append(i)
    offs = [0.0] * len(vals)
    for b, idx in bins.items():
        n = len(idx)
        sp = d if n <= 1 else min(d * 1.2, 2 * maxhw / (n - 1))
        for j, i in enumerate(idx):
            offs[i] = (j - (n - 1) / 2) * sp
    return offs


fig = go.Figure()
layout = {}
k = 0
A_PX_PER_UNIT = (X(A_X[1]) - X(A_X[0])) / (A_RANGE[1] - A_RANGE[0])


def new_axes(xpix, top, bot, xrange, yrange, ytickvals, show_y, xline_w, xline_c, ylc):
    global k
    k += 1
    xn = "xaxis" if k == 1 else f"xaxis{k}"
    yn = "yaxis" if k == 1 else f"yaxis{k}"
    layout[xn] = dict(domain=xdom(xpix), range=xrange, anchor=f"y{k}" if k > 1 else "y",
                      showline=True, linecolor=xline_c, linewidth=xline_w, showgrid=False,
                      zeroline=False, ticks="", showticklabels=False, fixedrange=True)
    layout[yn] = dict(domain=ydom(top, bot), range=yrange, anchor=f"x{k}" if k > 1 else "x",
                      showline=show_y, linecolor=ylc, linewidth=1.5, showgrid=False, zeroline=False,
                      ticks="outside" if show_y else "", ticklen=4, tickwidth=1.2, tickcolor=ylc,
                      tickvals=ytickvals, showticklabels=show_y,
                      tickfont=dict(size=10, color="#444", family=FONT), fixedrange=True)
    return ("x" if k == 1 else f"x{k}"), ("y" if k == 1 else f"y{k}"), xn


def lines_trace(polys, xa, ya):
    xs, ys = [], []
    for p in polys:
        for pt in p:
            xs.append(pt[0])
            ys.append(pt[1])
        xs.append(None)
        ys.append(None)
    return go.Scatter(x=xs, y=ys, mode="lines", line=dict(color="#1a1a1a", width=1.4),
                      xaxis=xa, yaxis=ya, hoverinfo="skip", showlegend=False)


def ref_traces(r, xr, xa, ya):
    out = []
    for lvl, dash in [(REF_HI[r], "5px,3px"), (REF_LO[r], "5px,3px"), (REF_MEAN[r], "solid")]:
        out.append(go.Scatter(x=[xr[0], xr[1]], y=[lvl, lvl], mode="lines",
                              line=dict(color="#e3343a", width=1.4, dash=dash),
                              xaxis=xa, yaxis=ya, hoverinfo="skip", showlegend=False))
    return out


TICK_FONT_BOTTOM = dict(size=11, color="#222", family=FONT, weight="bold")

for r in range(9):
    top = ROW_TOP0 + r * ROW_STEP
    bot = top + ROW_H
    last = r == 8
    # ---- column A ----
    xa, ya, xn = new_axes(A_X, top, bot, A_RANGE, [0, A_YMAX[r]],
                          list(range(0, A_YMAX[r] + 1, A_DTICK[r])), True, 1.5, "#666", "#666")
    if last:
        layout[xn].update(showticklabels=True, tickvals=[0, 1], ticktext=GROUPS, ticklabelstandoff=0,
                          tickfont=dict(size=17, color="#222", family=FONT, weight="bold"))
    ppu = ROW_H / A_YMAX[r]
    oc = swarm(CTRL[r], ppu, 5.6, 24)
    oa = swarm(ALS[r], ppu, 5.2, 31)
    fig.add_trace(go.Scatter(x=[0 + o / A_PX_PER_UNIT for o in oc], y=CTRL[r], mode="markers",
                             marker=dict(size=5.2, color="#111"), xaxis=xa, yaxis=ya,
                             hoverinfo="skip", showlegend=False, cliponaxis=False))
    fig.add_trace(go.Scatter(x=[1 + o / A_PX_PER_UNIT for o in oa], y=ALS[r], mode="markers",
                             marker=dict(size=5.2, symbol="circle-open", color="#3a3a3a",
                                         line=dict(width=1.1, color="#3a3a3a")),
                             xaxis=xa, yaxis=ya, hoverinfo="skip", showlegend=False, cliponaxis=False))
    for cx, m, s in [(0, CTRL_MEAN[r], CTRL_SEM[r]), (1, ALS_MEAN[r], ALS_SEM[r])]:
        hw, sw = 0.33, 0.16
        fig.add_trace(go.Scatter(
            x=[cx - hw, cx + hw, None, cx - sw, cx + sw, None, cx - sw, cx + sw, None, cx, cx],
            y=[m, m, None, m + s, m + s, None, m - s, m - s, None, m - s, m + s],
            mode="lines", line=dict(color="#222", width=1.5), xaxis=xa, yaxis=ya,
            hoverinfo="skip", showlegend=False))
    # ---- column B (broken axis) ----
    early = [p for p in TIME[r] if max(pt[0] for pt in p) <= 3]
    late = [p for p in TIME[r] if max(pt[0] for pt in p) > 3]
    ytv = list(range(0, BC_YMAX[r] + 1, BC_DTICK[r]))
    xa, ya, xn = new_axes(B1_X, top, bot, B1_RANGE, [0, BC_YMAX[r]], ytv, True, 2.5, "#333", "#333")
    if last:
        layout[xn].update(showticklabels=True, tickvals=YEAR_TICKS_1, ticklabelstandoff=2,
                          tickfont=TICK_FONT_BOTTOM)
    for t in ref_traces(r, B1_RANGE, xa, ya):
        fig.add_trace(t)
    fig.add_trace(lines_trace(early, xa, ya))
    xa, ya, xn = new_axes(B2_X, top, bot, B2_RANGE, [0, BC_YMAX[r]], ytv, False, 2.5, "#333", "#333")
    if last:
        layout[xn].update(showticklabels=True, tickvals=YEAR_TICKS_2, ticklabelstandoff=2,
                          tickfont=TICK_FONT_BOTTOM)
    for t in ref_traces(r, B2_RANGE, xa, ya):
        fig.add_trace(t)
    fig.add_trace(lines_trace(late, xa, ya))
    # ---- column C ----
    xa, ya, xn = new_axes(C_X, top, bot, C_RANGE, [0, BC_YMAX[r]], ytv, True, 2.5, "#333", "#333")
    if last:
        layout[xn].update(showticklabels=True, tickvals=FRS_TICKS, ticklabelstandoff=2,
                          tickfont=TICK_FONT_BOTTOM)
    for t in ref_traces(r, C_RANGE, xa, ya):
        fig.add_trace(t)
    fig.add_trace(lines_trace(FRS[r], xa, ya))

ann = []


def text(s, x, y, size, xanchor="left", angle=0, yanchor="middle", paper_y=None):
    yy = (1 - Y(y) / H) if paper_y is None else paper_y
    ann.append(dict(text=s, x=X(x) / W, y=yy, xref="paper", yref="paper", showarrow=False,
                    xanchor=xanchor, yanchor=yanchor, textangle=angle, borderpad=0,
                    font=dict(family=FONT, size=size, color="#222", weight="bold")))


text("A", 204, 19, 22)
text("Expression", 322, 19, 22, "center")
text("B", 452, 19, 22)
text("Time", 563, 19, 22, "center")
text("C", 700, 19, 22)
text("ALSFRS-R", 817, 19, 22, "center")
text("/", 2, 30, 26)
for r, name in enumerate(MARKERS):
    text(name, 12, ROW_TOP0 + r * ROW_STEP + 16, 24)
text("Fold MFI Expression", 157, 685, 20, "center", -90)
# bottom axis titles sit as low as the canvas allows
text("Years", 569, 0, 19, "center", yanchor="bottom", paper_y=0)
text("ALSFRS-R", 811, 0, 19, "center", yanchor="bottom", paper_y=0)

shapes = [dict(type="line", xref="paper", yref="paper", x0=X(184) / W, x1=X(184) / W,
               y0=1 - Y(50) / H, y1=1 - Y(1328) / H, line=dict(color="#111", width=5))]

fig.update_layout(width=W, height=H, margin=dict(l=0, r=0, t=0, b=0), paper_bgcolor="white",
                  plot_bgcolor="white", showlegend=False, annotations=ann, shapes=shapes,
                  font=dict(family=FONT), hovermode=False, **layout)
fig.write_html("out.html", config={"displayModeBar": False, "staticPlot": True},
               post_script="document.body.style.margin='0';document.body.style.overflow='hidden';")
